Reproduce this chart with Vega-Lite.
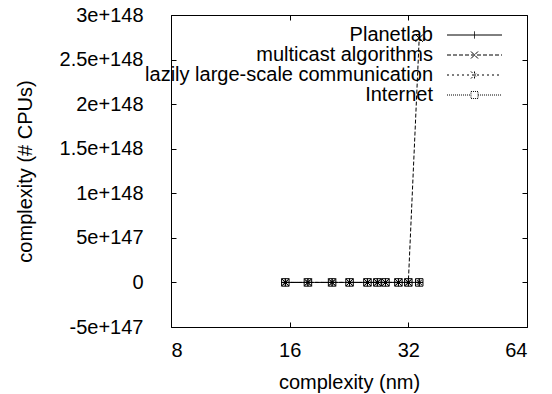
{
  "$schema": "https://vega.github.io/schema/vega-lite/v6.json",
  "width": 356,
  "height": 312,
  "autosize": {"type": "none"},
  "padding": {"left": 171, "top": 15, "right": 25, "bottom": 67},
  "background": "white",
  "config": {
    "view": {"stroke": "black", "strokeWidth": 1},
    "font": "Liberation Sans",
    "axis": {
      "labelFont": "Liberation Sans",
      "labelFontSize": 20,
      "labelColor": "black",
      "tickColor": "black",
      "tickSize": -5,
      "tickWidth": 1,
      "domain": false,
      "grid": false,
      "titleFont": "Liberation Sans",
      "titleFontSize": 20,
      "titleFontWeight": "normal",
      "titleColor": "black"
    }
  },
  "data": {
    "values": [
      {"series": "Planetlab", "x": 15.6, "y": 0},
      {"series": "Planetlab", "x": 17.8, "y": 0},
      {"series": "Planetlab", "x": 20.5, "y": 0},
      {"series": "Planetlab", "x": 22.7, "y": 0},
      {"series": "Planetlab", "x": 25.2, "y": 0},
      {"series": "Planetlab", "x": 26.7, "y": 0},
      {"series": "Planetlab", "x": 28.0, "y": 0},
      {"series": "Planetlab", "x": 30.2, "y": 0},
      {"series": "Planetlab", "x": 32.0, "y": 0},
      {"series": "Planetlab", "x": 34.1, "y": 0},
      {"series": "multicast algorithms", "x": 15.6, "y": 0},
      {"series": "multicast algorithms", "x": 17.8, "y": 0},
      {"series": "multicast algorithms", "x": 20.5, "y": 0},
      {"series": "multicast algorithms", "x": 22.7, "y": 0},
      {"series": "multicast algorithms", "x": 25.2, "y": 0},
      {"series": "multicast algorithms", "x": 26.7, "y": 0},
      {"series": "multicast algorithms", "x": 28.0, "y": 0},
      {"series": "multicast algorithms", "x": 30.2, "y": 0},
      {"series": "multicast algorithms", "x": 32.0, "y": 0},
      {"series": "multicast algorithms", "x": 34.1, "y": 2.74e148},
      {"series": "lazily large-scale communication", "x": 15.6, "y": 0},
      {"series": "lazily large-scale communication", "x": 17.8, "y": 0},
      {"series": "lazily large-scale communication", "x": 20.5, "y": 0},
      {"series": "lazily large-scale communication", "x": 22.7, "y": 0},
      {"series": "lazily large-scale communication", "x": 25.2, "y": 0},
      {"series": "lazily large-scale communication", "x": 26.7, "y": 0},
      {"series": "lazily large-scale communication", "x": 28.0, "y": 0},
      {"series": "lazily large-scale communication", "x": 30.2, "y": 0},
      {"series": "lazily large-scale communication", "x": 32.0, "y": 0},
      {"series": "lazily large-scale communication", "x": 34.1, "y": 0},
      {"series": "Internet", "x": 15.6, "y": 0},
      {"series": "Internet", "x": 17.8, "y": 0},
      {"series": "Internet", "x": 20.5, "y": 0},
      {"series": "Internet", "x": 22.7, "y": 0},
      {"series": "Internet", "x": 25.2, "y": 0},
      {"series": "Internet", "x": 26.7, "y": 0},
      {"series": "Internet", "x": 28.0, "y": 0},
      {"series": "Internet", "x": 30.2, "y": 0},
      {"series": "Internet", "x": 32.0, "y": 0},
      {"series": "Internet", "x": 34.1, "y": 0}
    ]
  },
  "layer": [
    {
      "mark": {"type": "line", "color": "black", "strokeWidth": 1},
      "encoding": {
        "x": {
          "field": "x", "type": "quantitative",
          "scale": {"type": "log", "base": 2, "domain": [8, 64], "nice": false},
          "axis": {"orient": "bottom", "values": [8, 16, 32, 64], "format": "d", "title": "complexity (nm)", "labelPadding": 18.5, "titlePadding": 12}
        },
        "y": {
          "field": "y", "type": "quantitative",
          "scale": {"domain": [-5e147, 3e148], "nice": false, "zero": false},
          "axis": {
            "orient": "left",
            "values": [-5e147, 0, 5e147, 1e148, 1.5e148, 2e148, 2.5e148, 3e148],
            "labelExpr": "datum.value == 0 ? '0' : replace(format(datum.value, '.2~e'), '\u2212', '-')",
            "labelPadding": 33,
            "title": "complexity (# CPUs)",
            "titlePadding": 24
          }
        },
        "strokeDash": {
          "field": "series", "type": "nominal",
          "scale": {
            "domain": ["Planetlab", "multicast algorithms", "lazily large-scale communication", "Internet"],
            "range": [[1, 0], [4, 2], [2, 3], [1, 1]]
          },
          "legend": {
            "title": null,
            "orient": "none",
            "legendX": 293.5,
            "legendY": 10,
            "direction": "vertical",
            "padding": 0,
            "labelAlign": "right",
            "labelBaseline": "middle",
            "labelOffset": -51.5,
            "labelFont": "Liberation Sans",
            "labelFontSize": 20,
            "labelColor": "black",
            "labelLimit": 400,
            "symbolType": "M-5,0H5",
            "symbolSize": 121,
            "symbolStrokeWidth": 1,
            "symbolStrokeColor": "black",
            "symbolFillColor": "transparent",
            "rowPadding": -1.9,
            "encode": {
              "symbols": {
                "update": {
                  "shape": {"signal": "datum.value === 'Planetlab' ? 'M-5,0H5M0,-0.64V0.64' : datum.value === 'multicast algorithms' ? 'M-5,0H5M-0.64,-0.64L0.64,0.64M-0.64,0.64L0.64,-0.64' : datum.value === 'lazily large-scale communication' ? 'M-5,0H5M0,-0.64V0.64M-0.64,-0.64L0.64,0.64M-0.64,0.64L0.64,-0.64' : 'M-5,0H-0.64M0.64,0H5M-0.64,-0.64H0.64V0.64H-0.64Z'"},
                  "fill": {"value": "transparent"},
                  "stroke": {"value": "black"},
                  "strokeWidth": {"value": 1}
                }
              }
            }
          }
        }
      }
    },
    {
      "transform": [{"filter": "datum.series === 'Planetlab'"}],
      "mark": {"type": "point", "filled": false, "color": "black", "strokeWidth": 1, "size": 56, "opacity": 1, "shape": "M0,-1V1M-1,0H1"},
      "encoding": {
        "x": {
          "field": "x", "type": "quantitative",
          "scale": {"type": "log", "base": 2, "domain": [8, 64], "nice": false},
          "axis": {"orient": "top", "values": [8, 16, 32, 64], "labels": false, "title": null}
        },
        "y": {
          "field": "y", "type": "quantitative",
          "scale": {"domain": [-5e147, 3e148], "nice": false, "zero": false},
          "axis": {"orient": "right", "values": [-5e147, 0, 5e147, 1e148, 1.5e148, 2e148, 2.5e148, 3e148], "labels": false, "title": null}
        }
      }
    },
    {
      "transform": [{"filter": "datum.series === 'multicast algorithms'"}],
      "mark": {"type": "point", "filled": false, "color": "black", "strokeWidth": 1, "size": 56, "opacity": 1, "shape": "M-1,-1L1,1M-1,1L1,-1"},
      "encoding": {
        "x": {"field": "x", "type": "quantitative", "axis": null},
        "y": {"field": "y", "type": "quantitative", "axis": null}
      }
    },
    {
      "transform": [{"filter": "datum.series === 'lazily large-scale communication'"}],
      "mark": {"type": "point", "filled": false, "color": "black", "strokeWidth": 1, "size": 56, "opacity": 1, "shape": "M0,-1V1M-1,0H1M-0.7,-0.7L0.7,0.7M-0.7,0.7L0.7,-0.7"},
      "encoding": {
        "x": {"field": "x", "type": "quantitative", "axis": null},
        "y": {"field": "y", "type": "quantitative", "axis": null}
      }
    },
    {
      "transform": [{"filter": "datum.series === 'Internet'"}],
      "mark": {"type": "point", "filled": false, "color": "black", "strokeWidth": 1, "size": 56, "opacity": 1, "shape": "M-1,-1H1V1H-1Z"},
      "encoding": {
        "x": {"field": "x", "type": "quantitative", "axis": null},
        "y": {"field": "y", "type": "quantitative", "axis": null}
      }
    }
  ]
}
